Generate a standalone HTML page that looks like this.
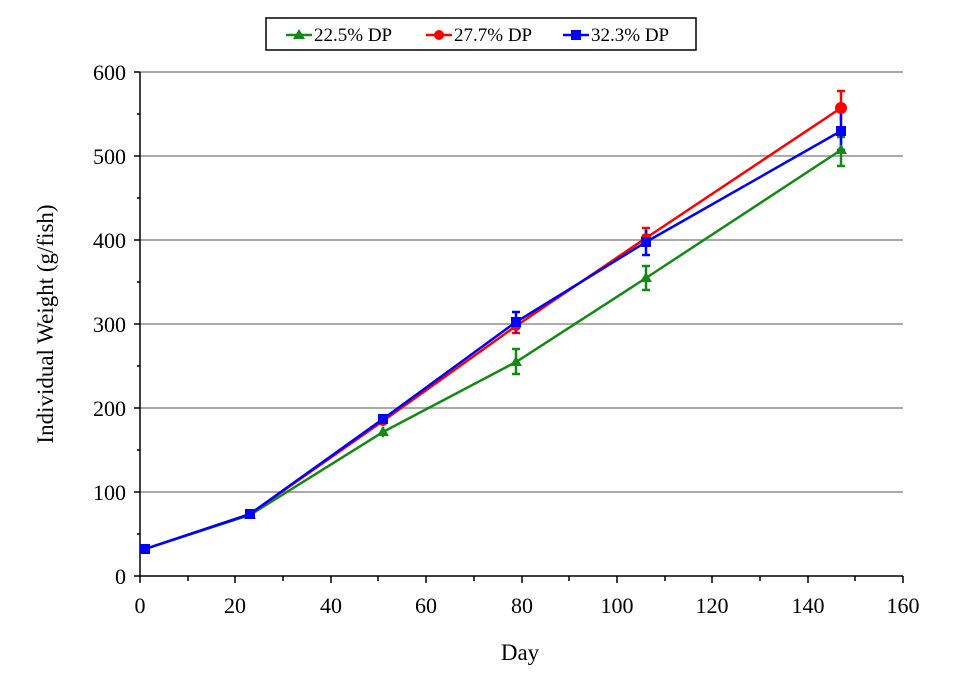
<!DOCTYPE html>
<html><head><style>body{margin:0;background:#fff}svg{display:block;font-family:"Liberation Serif",serif}</style></head><body>
<svg width="960" height="690" viewBox="0 0 960 690">
<rect x="266" y="18" width="430" height="32" fill="#fff" stroke="#000" stroke-width="1.5"/>
<g font-size="19">
<line x1="286" y1="35" x2="312" y2="35" stroke="#138a13" stroke-width="2.5"/><polygon points="299,29 305,39 293,39" fill="#138a13"/><text x="314" y="41">22.5% DP</text>
<line x1="426" y1="35" x2="452" y2="35" stroke="#f00" stroke-width="2.5"/><circle cx="439" cy="35" r="5" fill="#f00"/><text x="454" y="41">27.7% DP</text>
<line x1="563" y1="35" x2="589" y2="35" stroke="#00f" stroke-width="2.5"/><rect x="571" y="30" width="10" height="10" fill="#00f"/><text x="591" y="41">32.3% DP</text>
</g>
<g stroke="#aaa" stroke-width="2">
<line x1="140" y1="72" x2="903" y2="72"/><line x1="140" y1="156" x2="903" y2="156"/><line x1="140" y1="240" x2="903" y2="240"/><line x1="140" y1="324" x2="903" y2="324"/><line x1="140" y1="408" x2="903" y2="408"/><line x1="140" y1="492" x2="903" y2="492"/>
</g>
<g stroke="#000" stroke-width="1.5">
<line x1="140" y1="72" x2="140" y2="576"/><line x1="140" y1="576" x2="903" y2="576"/>
<path d="M134 72H140M134 156H140M134 240H140M134 324H140M134 408H140M134 492H140M134 576H140M137 114H140M137 198H140M137 282H140M137 366H140M137 450H140M137 534H140"/>
<path d="M140 576v7M188 576v5M235 576v7M283 576v5M331 576v7M378 576v5M426 576v7M474 576v5M522 576v7M569 576v5M617 576v7M665 576v5M712 576v7M760 576v5M808 576v7M855 576v5M903 576v7"/>
</g>
<g font-size="22" text-anchor="end">
<text x="126" y="80">600</text><text x="126" y="164">500</text><text x="126" y="248">400</text><text x="126" y="332">300</text><text x="126" y="416">200</text><text x="126" y="500">100</text><text x="126" y="584">0</text>
</g>
<g font-size="22" text-anchor="middle">
<text x="140" y="613">0</text><text x="235" y="613">20</text><text x="331" y="613">40</text><text x="426" y="613">60</text><text x="522" y="613">80</text><text x="617" y="613">100</text><text x="712" y="613">120</text><text x="808" y="613">140</text><text x="903" y="613">160</text>
<text x="520" y="660" font-size="23">Day</text>
<text transform="translate(53,324) rotate(-90)" font-size="23">Individual Weight (g/fish)</text>
</g>
<g fill="none" stroke-width="2.5">
<polyline stroke="#138a13" points="145,549 250,515 383,432 516,362 646,278 841,150"/>
<polyline stroke="#f00" points="145,549 250,514 383,421 516,326 646,238 841,108"/>
<polyline stroke="#00f" points="145,549 250,514 383,419 516,322 646,242 841,131"/>
</g>
<g stroke-width="2.5" fill="none">
<path stroke="#138a13" d="M516 349V374M512 349h8M512 374h8M646 266V290M642 266h8M642 290h8M841 137V166M837 137h8M837 166h8M383 427V437"/>
<path stroke="#f00" d="M841 91V120M837 91h8M516 318V333M512 333h8M646 228V245M642 228h8"/>
<path stroke="#00f" d="M841 113V150M837 150h8M646 230V255M642 255h8M516 312V333M512 312h8"/>
</g>
<g fill="#138a13"><polygon points="383,426 389,436 377,436"/><polygon points="516,356 522,366 510,366"/><polygon points="646,272 652,282 640,282"/><polygon points="841,144 847,154 835,154"/><polygon points="250,509 256,519 244,519"/></g>
<g fill="#f00"><circle cx="383" cy="421" r="5"/><circle cx="516" cy="326" r="5"/><circle cx="646" cy="238" r="5"/><circle cx="841" cy="108" r="6"/></g>
<g fill="#00f"><rect x="140" y="544" width="10" height="10"/><rect x="245" y="509" width="10" height="10"/><rect x="378" y="414" width="10" height="10"/><rect x="511" y="317" width="10" height="10"/><rect x="641" y="237" width="10" height="10"/><rect x="836" y="126" width="10" height="10"/></g>
</svg>
</body></html>
